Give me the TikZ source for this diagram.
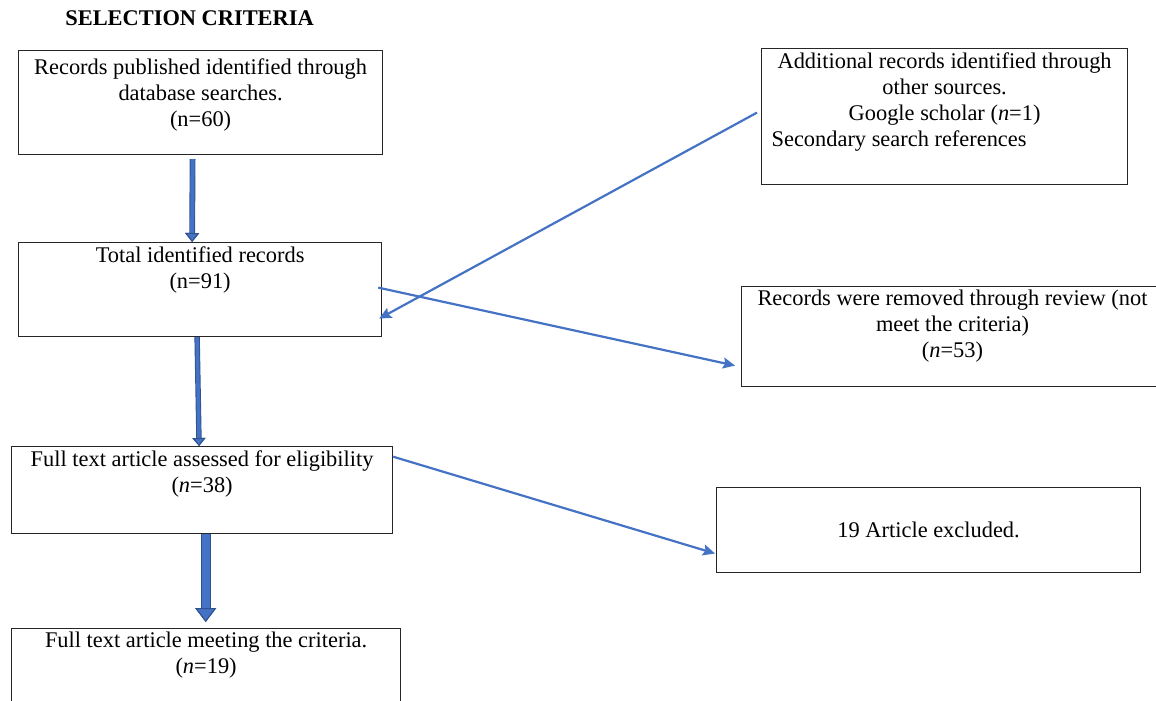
\documentclass[tikz,border=0pt]{standalone}
\usepackage{fontspec}
\setmainfont{Liberation Serif}
\usetikzlibrary{arrows.meta}
\definecolor{arrowblue}{HTML}{4472C4}
\definecolor{edgeblue}{HTML}{2F528F}
\tikzset{
  box/.style={draw=black!85, line width=0.6pt, inner sep=0pt, anchor=north west},
  txt/.style={align=center, inner sep=0pt, anchor=north, font=\fontsize{11.2}{13}\selectfont},
  flow/.style={draw=arrowblue, line width=1.1pt, -{Stealth[length=6pt,width=5.5pt,inset=1pt]}},
  fatarrow/.style={draw=arrowblue, line width=#1,
    preaction={draw=edgeblue, line width=#1+0.9pt}},
}
\begin{document}
\begin{tikzpicture}[x=0.5pt,y=-0.5pt]
\useasboundingbox (0,0) rectangle (1156,701);
\node[anchor=west, inner sep=0pt, font=\fontsize{11.2}{13}\selectfont\bfseries] (title) at (65,18) {SELECTION CRITERIA};

% left column
\node[box, minimum width=182pt, minimum height=52pt] (rec) at (18,50) {};
\node[txt] at ([yshift=-4.2pt]rec.north) {Records published identified through\\database searches.\\(n=60)};

\node[box, minimum width=181.5pt, minimum height=47pt] (total) at (18,242) {};
\node[txt] at ([yshift=-2.2pt]total.north) {Total identified records\\(n=91)};

\node[box, minimum width=190.5pt, minimum height=43.5pt] (full) at (11,446) {};
\node[txt] at ([yshift=-2.2pt]full.north) {Full text article assessed for eligibility\\(\textit{n}=38)};

\node[box, minimum width=194.5pt, minimum height=45pt] (meet) at (11,628) {};
\node[txt] at ([yshift=-1.7pt]meet.north) {Full text article meeting the criteria.\\(\textit{n}=19)};

% right column
\node[box, minimum width=183pt, minimum height=68pt] (add) at (761,48) {};
\node[txt] at ([yshift=-2.2pt]add.north) {Additional records identified through\\other sources.\\Google scholar (\textit{n}=1)\\\makebox[173pt][l]{Secondary search references}};

\node[box, minimum width=212.5pt, minimum height=50pt] (rem) at (741,286) {};
\node[txt] at ([xshift=-0.8pt,yshift=-1.7pt]rem.north) {Records were removed through review (not\\meet the criteria)\\(\textit{n}=53)};

\node[box, minimum width=212pt, minimum height=42.5pt] (excl) at (716,487) {};
\node[txt, anchor=center] at (excl.center) {19 Article excluded.};

% block arrows
\draw[fatarrow=2pt, -{Triangle[length=4.5pt,width=7pt,fill=arrowblue,color=edgeblue,line width=0.5pt]}] ([xshift=-4pt,yshift=-2pt]rec.south) -- ([xshift=-4pt]total.north);
\draw[fatarrow=1.8pt, -{Triangle[length=4pt,width=6.5pt,fill=arrowblue,color=edgeblue,line width=0.5pt]}] ([xshift=-1.5pt]total.south) -- ([xshift=-1.5pt]full.north);
\draw[fatarrow=4pt, -{Triangle[length=7pt,width=10.5pt,fill=arrowblue,color=edgeblue,line width=0.5pt]}] ([xshift=1.8pt]full.south) -- ([xshift=-0.2pt,yshift=3pt]meet.north);

% thin arrows
\draw[flow] ([xshift=-2pt,yshift=2pt]add.west) -- ([xshift=-1.5pt,yshift=-14.5pt]total.east);
\draw[flow] ([xshift=-2pt,yshift=1pt]total.east) -- ([xshift=-3pt,yshift=-14.5pt]rem.west);
\draw[flow] ([yshift=16.7pt]full.east) -- ([xshift=-0.5pt,yshift=-11.7pt]excl.west);
\end{tikzpicture}
\end{document}
